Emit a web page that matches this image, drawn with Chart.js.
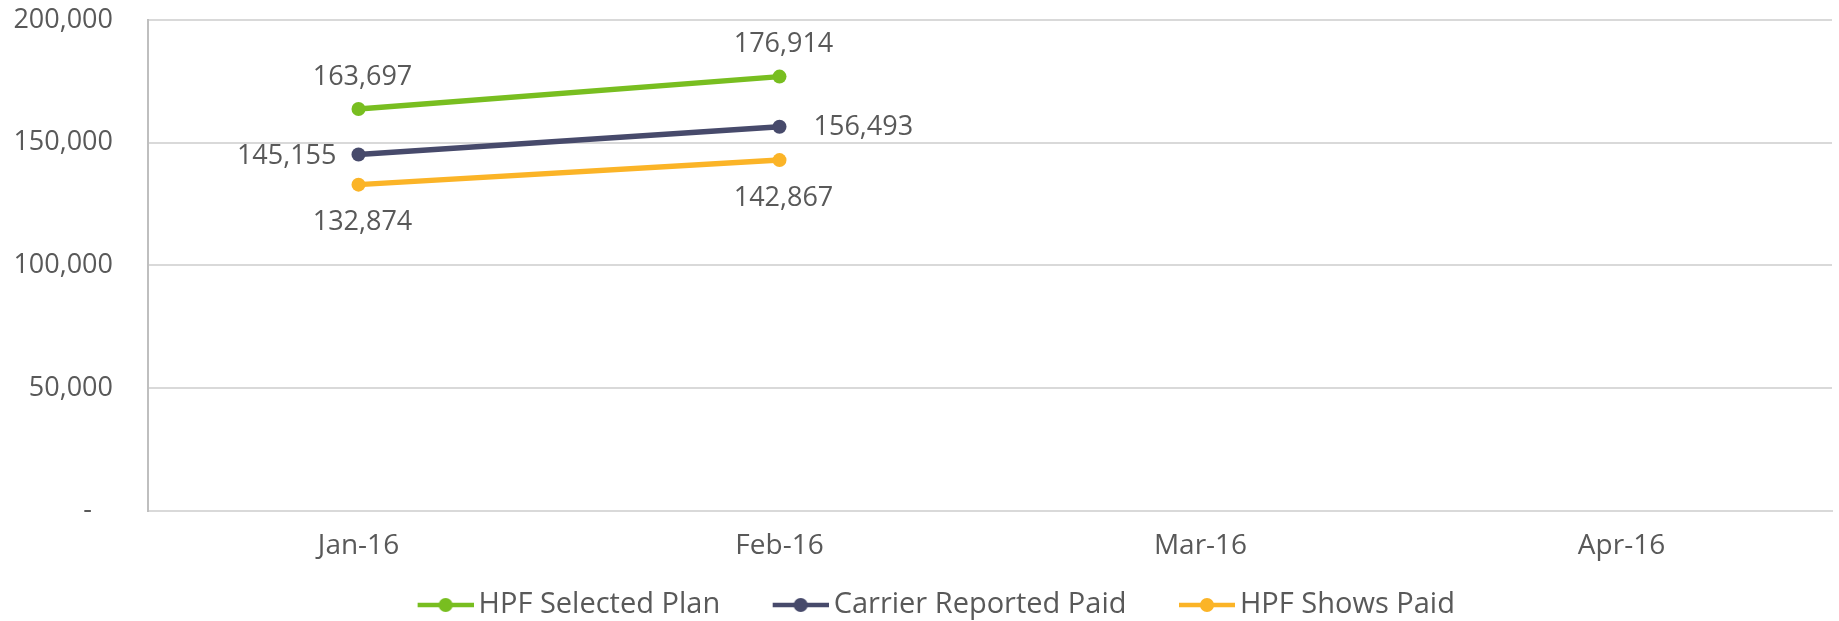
<!DOCTYPE html>
<html>
<head>
<meta charset="utf-8">
<script src="https://cdn.jsdelivr.net/npm/chart.js@4.4.1/dist/chart.umd.min.js"></script>
<style>
    html, body { margin: 0; padding: 0; background: #fff; }
    #wrap { width: 1839px; height: 621px; position: relative; }
</style>
</head>
<body>
<div id="wrap"><canvas id="paidChart"></canvas></div>
<script>
// Data
const months = ['Jan-16', 'Feb-16', 'Mar-16', 'Apr-16'];
const seriesNames = ['HPF Selected Plan', 'Carrier Reported Paid', 'HPF Shows Paid'];
const selectedPlan = [163697, 176914, null, null];
const carrierPaid = [145155, 156493, null, null];
const showsPaid = [132874, 142867, null, null];
const yTicks = [0, 50000, 100000, 150000, 200000];

const colors = ['#78BE20', '#474A6B', '#FBB427'];
const FONT = '"Open Sans", "DejaVu Sans", sans-serif';
const TEXT = '#595959';

// legend marker: short line with a dot in the middle, blank space on the left
// gives the gap between legend items
function legendMarker(color) {
    const c = document.createElement('canvas');
    c.width = 93;
    c.height = 16;
    const g = c.getContext('2d');
    const x0 = 93 - 56;
    g.strokeStyle = color;
    g.lineWidth = 4.5;
    g.beginPath();
    g.moveTo(x0, 8);
    g.lineTo(93, 8);
    g.stroke();
    g.fillStyle = color;
    g.beginPath();
    g.arc(x0 + 28, 8, 7, 0, Math.PI * 2);
    g.fill();
    return c;
}

// value labels next to points
const valueLabels = {
    id: 'valueLabels',
    afterDatasetsDraw(chart, args, opts) {
        const ctx = chart.ctx;
        ctx.save();
        ctx.font = '27px ' + FONT;
        ctx.fillStyle = TEXT;
        chart.data.datasets.forEach((ds, di) => {
            const meta = chart.getDatasetMeta(di);
            meta.data.forEach((pt, i) => {
                const v = ds.data[i];
                if (v === null || v === undefined) return;
                const txt = v.toLocaleString('en-US');
                const place = opts.place[di][i];
                let x = pt.x, y = pt.y;
                ctx.textBaseline = 'middle';
                if (place === 'above') { ctx.textAlign = 'center'; x += 4; y -= 32; }
                else if (place === 'below') { ctx.textAlign = 'center'; x += 4; y += 38; }
                else if (place === 'left') { ctx.textAlign = 'right'; x -= 22; y += 2; }
                else { ctx.textAlign = 'left'; x += 34; y += 1; }
                ctx.fillText(txt, x, y);
            });
        });
        ctx.restore();
    }
};

const seriesData = [selectedPlan, carrierPaid, showsPaid];

new Chart(document.getElementById('paidChart'), {
    type: 'line',
    data: {
        labels: months,
        datasets: seriesData.map((d, i) => ({
            label: seriesNames[i],
            data: d,
            borderColor: colors[i],
            backgroundColor: colors[i],
            borderWidth: 5.5,
            pointRadius: 7,
            pointBorderWidth: 0,
            pointStyle: 'circle',
            tension: 0,
            spanGaps: false
        }))
    },
    options: {
        responsive: true,
        maintainAspectRatio: false,
        animation: false,
        events: [],
        layout: {
            padding: { top: 20, right: -6, left: 0, bottom: -8.5 }
        },
        scales: {
            x: {
                offset: true,
                grid: { display: false, drawTicks: false },
                border: { color: '#D9D9D9', width: 2 },
                ticks: {
                    color: TEXT,
                    font: { family: FONT, size: 28 },
                    padding: 19,
                    maxRotation: 0
                },
                afterFit(scale) { scale.height = 55; }
            },
            y: {
                min: 0,
                max: 200000,
                grid: {
                    color: '#D9D9D9',
                    lineWidth: 2,
                    drawTicks: true,
                    tickLength: 35,
                    tickColor: 'rgba(0,0,0,0)'
                },
                border: { color: '#BFBFBF', width: 2 },
                afterBuildTicks(scale) {
                    scale.ticks = yTicks.map(v => ({ value: v }));
                },
                ticks: {
                    color: TEXT,
                    font: { family: FONT, size: 27 },
                    padding: 0,
                    callback: (v) => v === 0 ? '-   ' : v.toLocaleString('en-US')
                },
                afterFit(scale) { scale.width = 148; }
            }
        },
        plugins: {
            legend: {
                position: 'bottom',
                labels: {
                    usePointStyle: true,
                    pointStyleWidth: 74,
                    padding: 25,
                    color: TEXT,
                    font: { family: FONT, size: 29 },
                    generateLabels(chart) {
                        return chart.data.datasets.map((ds, i) => ({
                            text: ds.label,
                            pointStyle: legendMarker(colors[i]),
                            fillStyle: colors[i],
                            strokeStyle: colors[i],
                            lineWidth: 0,
                            fontColor: TEXT,
                            hidden: false,
                            datasetIndex: i
                        }));
                    }
                }
            },
            tooltip: { enabled: false },
            valueLabels: {
                place: [
                    ['above', 'above'],
                    ['left', 'right'],
                    ['below', 'below']
                ]
            }
        }
    },
    plugins: [valueLabels]
});
</script>
</body>
</html>
